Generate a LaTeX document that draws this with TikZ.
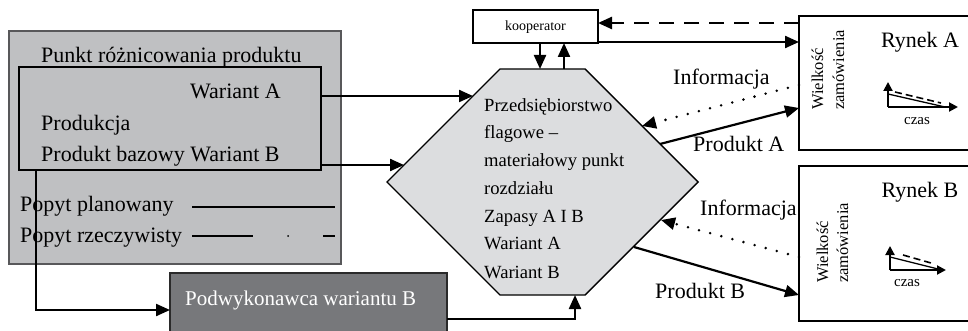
\documentclass[tikz,border=0pt]{standalone}
\usepackage{fontspec}
\setmainfont{Liberation Serif}
\usetikzlibrary{arrows.meta}
\definecolor{outerfill}{HTML}{BFC0C2}
\definecolor{outerdraw}{HTML}{58585A}
\definecolor{hexfill}{HTML}{DCDDDF}
\definecolor{subfill}{HTML}{77787B}
\definecolor{subdraw}{HTML}{2A2A2A}
\begin{document}
\begin{tikzpicture}[x=1pt,y=-1pt,
  txt/.style={inner sep=0pt, anchor=base west, font=\fontsize{22}{26}\selectfont},
  htxt/.style={inner sep=0pt, anchor=base west, font=\fontsize{18.6}{22}\selectfont},
  rtxt/.style={inner sep=0pt, anchor=base west, rotate=90, font=\fontsize{16.5}{20}\selectfont},
  smalltxt/.style={inner sep=0pt, font=\fontsize{15}{18}\selectfont},
  arr/.style={-{Triangle[length=14pt,width=12pt]}, line width=2.2pt},
  miniarr/.style={-{Triangle[length=9pt,width=9pt]}, line width=2pt},
  dotarr/.style={-{Triangle[length=14pt,width=12pt]}, line width=2.8pt, line cap=round, dash pattern=on 0pt off 11.5pt},
  dasharr/.style={-{Triangle[length=14pt,width=12pt]}, line width=2.4pt, dash pattern=on 15pt off 10pt},
  box/.style={draw=black, line width=1.8pt}
]
\useasboundingbox (0,0) rectangle (968,331);

% left outer box
\draw[fill=outerfill, draw=outerdraw, line width=2.4pt] (9,31) rectangle (341,264);
\draw[black, line width=1.4pt] (19,67) rectangle (321,170);
\node[txt] (t1) at (41,63) {Punkt różnicowania produktu};
\node[txt] (t2) at (190,99) {Wariant A};
\node[txt] (t3) at (41,131) {Produkcja};
\node[txt] (t4) at (41,162) {Produkt bazowy Wariant B};
\node[txt] (t5) at (20,211) {Popyt planowany};
\node[txt] (t6) at (20,242) {Popyt rzeczywisty};
\draw[line width=1.6pt] (192,207) -- (335,207);
\draw[line width=1.6pt] (192,236) -- (253,236);
\fill (288,236) circle (1pt);
\draw[line width=1.6pt] (323,236) -- (335,236);

% subcontractor box
\draw[fill=subfill, draw=subdraw, line width=1.8pt] (170,273) rectangle (447,340);
\node[txt, text=white, font=\fontsize{21}{25}\selectfont] (sub) at (185,305) {Podwykonawca wariantu B};

% hexagon
\draw[fill=hexfill, draw=black, line width=1.4pt]
  (500,69) -- (585,69) -- (698,182) -- (585,295) -- (500,295) -- (387,182) -- cycle;
\node[htxt] (h1) at (484,112) {Przedsiębiorstwo};
\node[htxt] (h2) at (484,139) {flagowe –};
\node[htxt] (h3) at (484,167) {materiałowy punkt};
\node[htxt] (h4) at (484,194) {rozdziału};
\node[htxt] (h5) at (484,222) {Zapasy A I B};
\node[htxt] (h6) at (484,249) {Wariant A};
\node[htxt] (h7) at (484,278) {Wariant B};

% kooperator
\draw[fill=white, draw=black, line width=1.4pt] (473,10) rectangle (598,43);
\node[smalltxt, font=\fontsize{14}{16}\selectfont] (koop) at (535.5,27) {kooperator};

% market boxes
\draw[box] (799,16) rectangle (972,150);
\draw[box] (799,166) rectangle (972,321);
\node[inner sep=0pt, anchor=base, font=\fontsize{22}{26}\selectfont] (ra) at (920,48) {Rynek A};
\node[inner sep=0pt, anchor=base, font=\fontsize{22}{26}\selectfont] (rb) at (920,197) {Rynek B};
\node[rtxt] (wa1) at (823,110) {Wielkość};
\node[rtxt] (wa2) at (844,110) {zamówienia};
\node[rtxt] (wb1) at (828,283) {Wielkość};
\node[rtxt] (wb2) at (848,283) {zamówienia};

% mini graphs
\coordinate (gaO) at (888,107);
\coordinate (gaY) at (888,82);
\coordinate (gaX) at (958,107);
\draw[miniarr] (gaO) -- (gaY);
\draw[miniarr] (gaO) -- (gaX);
\draw[line width=1.3pt] (888,94) -- (945,107);
\draw[line width=1.6pt, dash pattern=on 7pt off 4pt] (895,92) -- (941,103);
\node[smalltxt] (ca) at (917,121) {czas};

\coordinate (gbO) at (890,270);
\coordinate (gbY) at (890,246);
\coordinate (gbX) at (946,270);
\draw[miniarr] (gbO) -- (gbY);
\draw[miniarr] (gbO) -- (gbX);
\draw[line width=1.3pt] (890,257) -- (938,269);
\draw[line width=1.6pt, dash pattern=on 7pt off 4pt] (903,255) -- (931,263);
\node[smalltxt] (cb) at (907,283) {czas};

% connector coordinates
\coordinate (wAout) at (321,96);
\coordinate (wAin) at (473,96);
\coordinate (wBout) at (321,165);
\coordinate (wBin) at (404,165);
\coordinate (pbStart) at (36,170);
\coordinate (pbCorner) at (36,310);
\coordinate (pbEnd) at (170,310);
\coordinate (subOut) at (447,319);
\coordinate (subCorner) at (575,319);
\coordinate (hexBottom) at (575,295);
\coordinate (kDownA) at (540,43);
\coordinate (kDownB) at (540,69);
\coordinate (kUpA) at (564,69);
\coordinate (kUpB) at (564,43);
\coordinate (rAdash) at (799,23);
\coordinate (kDashIn) at (598,23);
\coordinate (kOut) at (598,42);
\coordinate (rAin) at (799,42);
\coordinate (hexPA) at (660,144);
\coordinate (rAprod) at (799,108);
\coordinate (rAinfo) at (799,85);
\coordinate (hexIA) at (642,126);
\coordinate (rBinfo) at (799,257);
\coordinate (hexIB) at (661,220);
\coordinate (hexPB) at (634,247);
\coordinate (rBprod) at (799,295);

\draw[arr] (wAout) -- (wAin);
\draw[arr] (wBout) -- (wBin);
\draw[arr] (pbStart) -- (pbCorner) -- (pbEnd);
\draw[arr] (subOut) -- (subCorner) -- (hexBottom);
\draw[arr] (kDownA) -- (kDownB);
\draw[arr] (kUpA) -- (kUpB);
\draw[dasharr] (rAdash) -- (kDashIn);
\draw[arr] (kOut) -- (rAin);
\draw[arr] (hexPA) -- (rAprod);
\draw[dotarr] (rAinfo) -- (hexIA);
\draw[dotarr] (rBinfo) -- (hexIB);
\draw[arr] (hexPB) -- (rBprod);

% labels
\node[txt] (ia) at (673,85) {Informacja};
\node[txt] (pa) at (693,152) {Produkt A};
\node[txt] (ib) at (700,215) {Informacja};
\node[txt] (pb) at (655,298) {Produkt B};
\end{tikzpicture}
\end{document}
